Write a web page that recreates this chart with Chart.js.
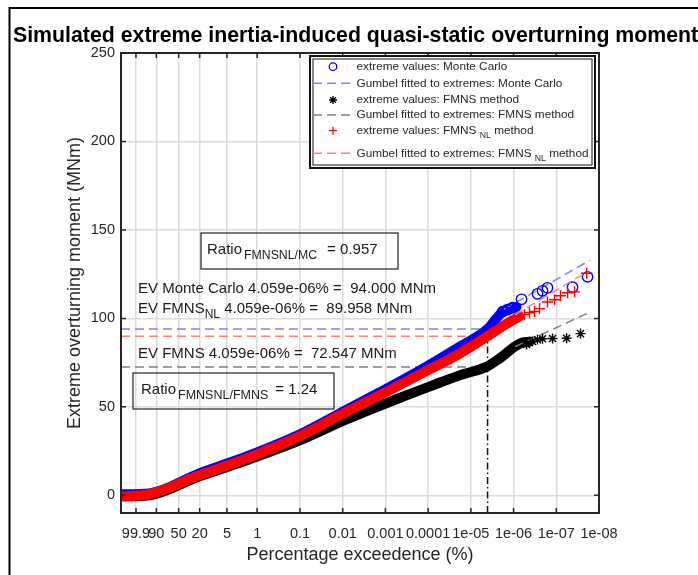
<!DOCTYPE html>
<html><head><meta charset="utf-8">
<script src="https://cdn.jsdelivr.net/npm/chart.js@4.4.0/dist/chart.umd.min.js"></script>
<style>html,body{margin:0;padding:0;background:#fff;}canvas{display:block;}</style>
</head><body>
<canvas id="c" width="698" height="575"></canvas>
<script>
// ---- axis tick labels ----
const xTickLabels = ['99.9','90','50','20','5','1','0.1','0.01','0.001','0.0001','1e-05','1e-06','1e-07','1e-08'];
const yTickValues = [0, 50, 100, 150, 200, 250];
const X_MIN = -2.74, Y_MIN = -10, Y_MAX = 250;

// ---- Monte Carlo (x = Gumbel reduced variate, y = MNm) ----
const mcDenseX = [-2.74, -1.22, 1.48, 4.18, 6.88, 9.03, 11.19, 13.35, 15.51, 17.02, 17.50, 17.83, 18.09, 18.36, 18.58];
const mcDenseY = [0.6, 1.1, 12.4, 22.6, 34.4, 46.2, 58.1, 70.5, 84.0, 94.0, 100.0, 103.8, 104.9, 106.0, 106.5];
const mcTailX = [17.83, 18.09, 18.36, 18.85, 19.71, 19.98, 20.25, 21.60, 22.41];
const mcTailY = [103.8, 104.9, 106.0, 110.8, 113.9, 115.6, 117.3, 117.6, 123.5];
const mcFitX = [17.90, 22.52];
const mcFitY = [105.2, 132.7];

// ---- FMNS_NL ----
const nlDenseX = [-2.74, -1.22, 1.48, 4.18, 6.88, 9.03, 11.19, 13.35, 15.51, 17.02, 17.90, 18.74];
const nlDenseY = [-0.6, 0.6, 11.3, 21.4, 33.3, 45.1, 56.4, 68.2, 80.1, 89.96, 96.0, 101.1];
const nlTailX = [19.01, 19.28, 19.55, 19.82, 20.25, 20.63, 20.95, 21.33, 21.71, 22.36];
const nlTailY = [102.1, 103.2, 103.9, 105.5, 109.3, 110.5, 112.8, 114.5, 115.0, 125.5];
const nlFitX = [18.50, 22.41];
const nlFitY = [102.0, 126.5];

// ---- FMNS ----
const fmDenseX = [-2.74, -1.22, 1.48, 4.18, 6.88, 9.41, 12.27, 14.43, 15.51, 17.02, 17.67, 18.74, 19.28];
const fmDenseY = [-0.6, 0.0, 10.7, 20.3, 31.0, 42.9, 55.0, 63.6, 67.8, 73.0, 77.4, 85.7, 86.9];
const fmTailX = [19.12, 19.44, 19.71, 19.98, 20.52, 21.28, 22.03];
const fmTailY = [85.2, 86.9, 88.0, 88.5, 88.6, 88.8, 91.4];
const fmFitX = [18.50, 22.61];
const fmFitY = [84.0, 103.9];

// ---- extreme values at the design exceedence ----
const evPct = '4.059e-06';
const evMC = 94.000, evNL = 89.958, evFM = 72.547;
const ratioNLMC = '0.957', ratioNLFM = '1.24';

// Gumbel probability-paper transform of a percentage exceedence
function gumbelVariate(pct){ const p = parseFloat(pct)/100; return -Math.log(-Math.log1p(-p)); }
const X_MAX = gumbelVariate(xTickLabels[xTickLabels.length-1]);
const evX = gumbelVariate(evPct);
const zip = (xs, ys) => xs.map((x,i)=>({x:x, y:ys[i]}));

const FONT = "'Liberation Sans', Arial, Helvetica, sans-serif";
const TXT = '#262626';
const BLUE='#0000ff', RED='#ff0000', BLACK='#000000';
const LBLUE='#8080ff', LRED='#ff8080', GREY='#808080';
const DASH=[9,5];

function band(xs, ys, color){
  return {data: zip(xs,ys), showLine:true, borderColor:color, borderWidth:10, pointRadius:0,
    borderCapStyle:'round', borderJoinStyle:'round', cubicInterpolationMode:'monotone', fill:false};
}
function marks(xs, ys, color, style, r){
  return {data: zip(xs,ys), showLine:false, pointStyle:style, pointRadius:r, pointBorderWidth:1.4,
    borderColor:color, pointBorderColor:color, backgroundColor:'rgba(0,0,0,0)', pointBackgroundColor:'rgba(0,0,0,0)'};
}
function dashed(xs, ys, color, dash){
  return {data: zip(xs,ys), showLine:true, borderColor:color, borderWidth:1.5, borderDash:dash||DASH,
    pointRadius:0, fill:false};
}

// first dataset = drawn on top
const dsNLTail = marks(nlTailX, nlTailY, RED, 'cross', 5.5);
const dsNLFit = dashed(nlFitX, nlFitY, LRED);
const dsFMTail = marks(fmTailX, fmTailY, BLACK, 'star', 5);
const dsFMFit = dashed(fmFitX, fmFitY, GREY);
const dsMCTail = marks(mcTailX, mcTailY, BLUE, 'circle', 5.2);
const dsMCFit = dashed(mcFitX, mcFitY, LBLUE);
const datasets = [
  dsNLTail, dsNLFit, band(nlDenseX, nlDenseY, RED),
  dsFMTail, dsFMFit, band(fmDenseX, fmDenseY, BLACK),
  dsMCTail, dsMCFit, band(mcDenseX, mcDenseY, BLUE),
  dashed([X_MIN, evX], [evNL, evNL], LRED),
  dashed([X_MIN, evX], [evMC, evMC], LBLUE),
  dashed([X_MIN, evX], [evFM, evFM], GREY),
  dashed([evX, evX], [Y_MIN, evNL], '#111111', [7,3,1.5,3])
];

const legendItems = [
  {ds: dsMCTail, kind:'mark', text:[['extreme values: Monte Carlo']]},
  {ds: dsMCFit, kind:'line', text:[['Gumbel fitted to extremes: Monte Carlo']]},
  {ds: dsFMTail, kind:'mark', text:[['extreme values: FMNS method']]},
  {ds: dsFMFit, kind:'line', text:[['Gumbel fitted to extremes: FMNS method']]},
  {ds: dsNLTail, kind:'mark', text:[['extreme values: FMNS '],['NL',1],[' method']]},
  {ds: dsNLFit, kind:'line', text:[['Gumbel fitted to extremes: FMNS '],['NL',1],[' method']]}
];
const legendRowsY = [66.7, 83.3, 100, 115, 130.7, 153.3];

function drawRich(ctx, segs, x, y, size, subSize, subDy){
  let cx = x;
  segs.forEach(s=>{
    const sub = s[1]===1;
    ctx.font = (sub?subSize:size)+'px '+FONT;
    ctx.fillText(s[0], cx + (s[2]||0), y + (sub?subDy:0));
    cx += ctx.measureText(s[0]).width + (s[2]||0);
  });
  return cx;
}

const decor = {
  id:'decor',
  beforeDraw(chart){
    const ctx=chart.ctx; ctx.save(); ctx.fillStyle='#fff'; ctx.fillRect(0,0,chart.width,chart.height); ctx.restore();
  },
  afterDraw(chart){
    const ctx = chart.ctx, a = chart.chartArea, xs = chart.scales.x, ys = chart.scales.y;
    ctx.save();
    // axes box
    ctx.strokeStyle = TXT; ctx.lineWidth = 2;
    ctx.strokeRect(a.left, a.top, a.right-a.left, a.bottom-a.top);
    // inward ticks
    ctx.lineWidth = 1.5; ctx.beginPath();
    xs.ticks.forEach(t=>{ const px = xs.getPixelForValue(t.value);
      ctx.moveTo(px, a.bottom); ctx.lineTo(px, a.bottom-5);
      ctx.moveTo(px, a.top); ctx.lineTo(px, a.top+5); });
    ys.ticks.forEach(t=>{ const py = ys.getPixelForValue(t.value);
      ctx.moveTo(a.left, py); ctx.lineTo(a.left+5, py);
      ctx.moveTo(a.right, py); ctx.lineTo(a.right-5, py); });
    ctx.stroke();

    // legend
    const L = {x:310, y:56, w:285, h:112};
    ctx.fillStyle='#fff'; ctx.fillRect(L.x, L.y, L.w, L.h);
    ctx.strokeStyle='#111'; ctx.lineWidth=2; ctx.strokeRect(L.x, L.y, L.w, L.h);
    ctx.lineWidth=1; ctx.strokeRect(L.x+3, L.y+3, L.w-6, L.h-6);
    legendItems.forEach((it,i)=>{
      const y = legendRowsY[i];
      if (it.kind==='line'){
        ctx.save(); ctx.strokeStyle = it.ds.borderColor; ctx.lineWidth = 1.5; ctx.setLineDash(it.ds.borderDash);
        ctx.beginPath(); ctx.moveTo(313, y); ctx.lineTo(354, y); ctx.stroke(); ctx.restore();
      } else {
        ctx.save(); ctx.strokeStyle = it.ds.pointBorderColor; ctx.fillStyle='rgba(0,0,0,0)'; ctx.lineWidth = 1.3;
        Chart.helpers.drawPoint(ctx, {pointStyle: it.ds.pointStyle, radius: it.ds.pointStyle==='circle'?3.8:4, rotation:0, borderWidth:1.3}, 333, y);
        ctx.restore();
      }
      ctx.fillStyle = TXT; ctx.textBaseline='middle'; ctx.textAlign='left';
      drawRich(ctx, it.text, 356.5, y, 11.8, 8.7, 5);
    });

    // annotations
    ctx.fillStyle = '#1a1a1a'; ctx.textBaseline='middle'; ctx.textAlign='left';
    ctx.strokeStyle = '#333'; ctx.lineWidth = 1.3;
    ctx.strokeRect(201, 233, 197, 36);
    drawRich(ctx, [['Ratio'],['FMNSNL/MC',1,2],['= '+ratioNLMC,0,10]], 207, 250, 15, 12.3, 6);
    drawRich(ctx, [['EV Monte Carlo '+evPct+'% =  '+evMC.toFixed(3)+' MNm']], 138, 289, 15, 12, 6);
    drawRich(ctx, [['EV FMNS'],['NL',1],[' '+evPct+'% =  '+evNL.toFixed(3)+' MNm']], 138, 309, 15, 12, 6);
    drawRich(ctx, [['EV FMNS '+evPct+'% =  '+evFM.toFixed(3)+' MNm']], 138, 354, 15, 12, 6);
    ctx.strokeRect(133, 373, 201, 36);
    drawRich(ctx, [['Ratio'],['FMNSNL/FMNS',1,2],['= '+ratioNLFM,0,7]], 141, 390, 15, 12.5, 6);

    // title
    ctx.fillStyle = '#000'; ctx.font = 'bold 21.3px '+FONT; ctx.textBaseline='alphabetic';
    ctx.fillText('Simulated extreme inertia-induced quasi-static overturning moment', 13, 42);

    // figure frame
    ctx.strokeStyle='#000'; ctx.lineWidth=2; ctx.setLineDash([]);
    ctx.beginPath(); ctx.moveTo(9.5, 575); ctx.lineTo(9.5, 8); ctx.lineTo(698, 8); ctx.stroke();
    ctx.restore();
  }
};

new Chart(document.getElementById('c'), {
  type:'scatter',
  data:{datasets: datasets},
  plugins:[decor],
  options:{
    responsive:false, animation:false, devicePixelRatio:1,
    layout:{padding:{left:0, right:99, top:53, bottom:0}},
    plugins:{legend:{display:false}, tooltip:{enabled:false}, title:{display:false}},
    scales:{
      x:{type:'linear', min:X_MIN, max:X_MAX,
        afterBuildTicks(s){ s.ticks = xTickLabels.map(l=>({value: gumbelVariate(l)})); },
        afterFit(s){ s.height = 62; },
        ticks:{autoSkip:false, maxRotation:0, minRotation:0, padding:12, color:TXT,
          font:{family:FONT, size:14.5}, callback:(v,i)=>xTickLabels[i]},
        grid:{color:'#dcdcdc', lineWidth:1.5, drawTicks:false}, border:{display:false},
        title:{display:true, text:'Percentage exceedence (%)', color:TXT, font:{family:FONT, size:18}, padding:{top:0, bottom:9}}
      },
      y:{type:'linear', min:Y_MIN, max:Y_MAX,
        afterBuildTicks(s){ s.ticks = yTickValues.map(v=>({value:v})); },
        afterFit(s){ s.width = 121; },
        ticks:{padding:6, color:TXT, font:{family:FONT, size:14.5}, callback:v=>String(v)},
        grid:{color:'#dcdcdc', lineWidth:1.5, drawTicks:false}, border:{display:false},
        title:{display:true, text:'Extreme overturning moment (MNm)', color:TXT, font:{family:FONT, size:18}, padding:{top:64, bottom:0}}
      }
    }
  }
});
</script>
</body></html>
